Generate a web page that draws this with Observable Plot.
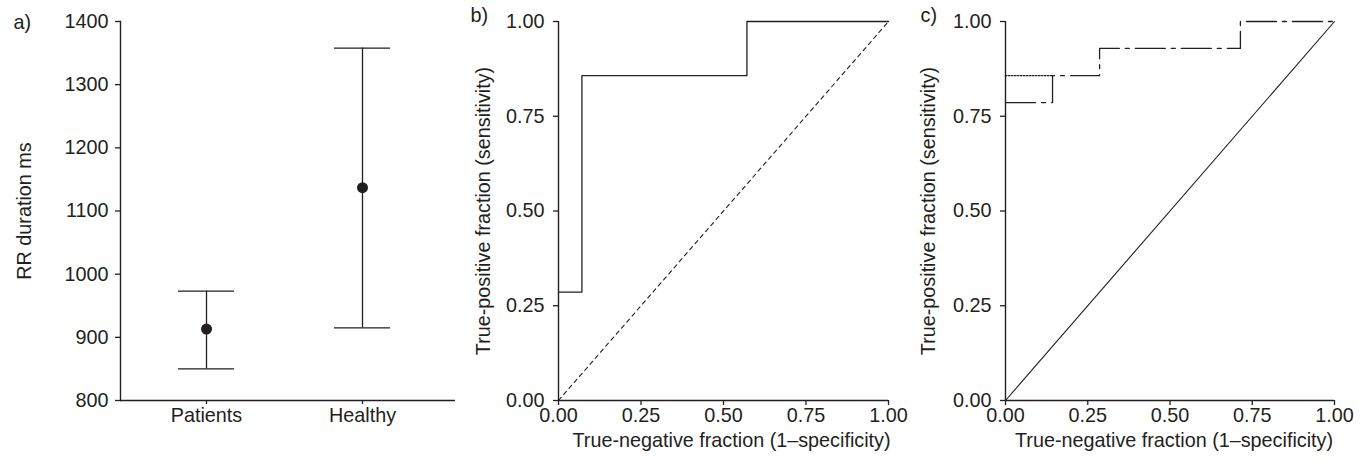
<!DOCTYPE html>
<html><head><meta charset="utf-8">
<script src="https://cdn.jsdelivr.net/npm/d3@7"></script>
<script src="https://cdn.jsdelivr.net/npm/@observablehq/plot@0.6"></script>
<style>
body{margin:0;background:#fff;}
#wrap{display:flex;width:1364px;height:460px;overflow:hidden;}
#wrap svg{display:block;flex:none;}
</style></head><body><div id="wrap"></div>
<script>
// Panel a: RR duration (mean with range)
const groups = ["Patients", "Healthy"];
const rrMean = [913, 1137];
const rrLower = [850, 915];
const rrUpper = [973, 1358];
const rrTicks = [800, 900, 1000, 1100, 1200, 1300, 1400];

// Panels b, c: ROC curves
const fracTicks = [0, 0.25, 0.5, 0.75, 1];
const chance = [0, 1];
const rocB_fpr = [0, 0.071, 0.571, 1];
const rocB_tpr = [0.286, 0.857, 1, 1];
const rocC1_fpr = [0, 0.143, 0.286, 0.714, 1];
const rocC1_tpr = [0.786, 0.857, 0.929, 1, 1];
const rocC2_fpr = [0, 0.143];
const rocC2_tpr = [0.857, 0.857];

const INK = "#231f20";
const FONT = "'Liberation Sans', Arial, sans-serif";
const style = {fontFamily: FONT, fontSize: "19.8px", color: INK, background: "#fff", overflow: "visible"};

const rrData = groups.map((g, i) => ({group: g, mean: rrMean[i], lower: rrLower[i], upper: rrUpper[i]}));
const pts = (xs, ys) => xs.map((x, i) => ({x, y: ys[i]}));

const panelA = Plot.plot({
  width: 460, height: 460,
  marginLeft: 120, marginRight: 5, marginTop: 21, marginBottom: 60,
  style,
  x: {type: "band", domain: groups, paddingInner: 0.643, paddingOuter: 0.3885, align: 0.467, label: null},
  y: {domain: [800, 1400], label: null},
  marks: [
    Plot.axisY({ticks: rrTicks, tickFormat: (d) => String(d), tickSize: 5, tickPadding: 7, label: null, strokeWidth: 1.3}),
    Plot.axisX({tickSize: 4, tickPadding: 3, label: null, strokeWidth: 1.3}),
    Plot.ruleY([800], {strokeWidth: 1.4}),
    Plot.frame({anchor: "left", strokeWidth: 1.4}),
    Plot.ruleX(rrData, {x: "group", y1: "lower", y2: "upper", strokeWidth: 1.3}),
    Plot.tickY(rrData, {x: "group", y: "lower", strokeWidth: 1.3}),
    Plot.tickY(rrData, {x: "group", y: "upper", strokeWidth: 1.3}),
    Plot.dot(rrData, {x: "group", y: "mean", r: 5.5, fill: INK, stroke: null}),
    Plot.text(["a)"], {frameAnchor: "top-left", dx: -107, dy: 1, textAnchor: "start", lineAnchor: "middle"}),
    Plot.text(["RR duration ms"], {frameAnchor: "left", rotate: -90, dx: -96, textAnchor: "middle", lineAnchor: "middle"})
  ]
});

function rocPanel({width, marginLeft, marginRight, tag, ylabDx, xlabDx, marks}) {
  return Plot.plot({
    width, height: 460,
    marginLeft, marginRight, marginTop: 21, marginBottom: 60,
    style,
    x: {domain: [0, 1], label: null},
    y: {domain: [0, 1], label: null},
    marks: [
      Plot.axisY({ticks: fracTicks, tickFormat: ".2f", tickSize: 5, tickPadding: 9, label: null, strokeWidth: 1.3}),
      Plot.axisX({ticks: fracTicks, tickFormat: ".2f", tickSize: 5, tickPadding: 2, label: null, strokeWidth: 1.3}),
      ...marks,
      Plot.ruleY([0], {strokeWidth: 1.4}),
      Plot.ruleX([0], {strokeWidth: 1.4}),
      Plot.text([tag], {frameAnchor: "top-left", dx: -(marginLeft - 10), dy: -6, textAnchor: "start", lineAnchor: "middle"}),
      Plot.text(["True-positive fraction (sensitivity)"], {frameAnchor: "left", rotate: -90, dx: ylabDx, textAnchor: "middle", lineAnchor: "middle"}),
      Plot.text(["True-negative fraction (1\u2013specificity)"], {frameAnchor: "bottom", dx: xlabDx, dy: 40, textAnchor: "middle", lineAnchor: "middle"})
    ]
  });
}

const panelB = rocPanel({
  width: 450, marginLeft: 98, marginRight: 22, tag: "b)", ylabDx: -75, xlabDx: 8,
  marks: [
    Plot.line(pts(chance, chance), {x: "x", y: "y", stroke: INK, strokeWidth: 1.1, strokeDasharray: "4,4"}),
    Plot.line(pts(rocB_fpr, rocB_tpr), {x: "x", y: "y", curve: "step-after", stroke: INK, strokeWidth: 1.3})
  ]
});

const panelC = rocPanel({
  width: 454, marginLeft: 95, marginRight: 30, tag: "c)", ylabDx: -77, xlabDx: 4,
  marks: [
    Plot.line(pts(chance, chance), {x: "x", y: "y", stroke: INK, strokeWidth: 1.1}),
    Plot.line(pts(rocC2_fpr, rocC2_tpr), {x: "x", y: "y", stroke: INK, strokeWidth: 1.3, strokeDasharray: "1.5,1.5"}),
    Plot.line(pts(rocC1_fpr, rocC1_tpr), {x: "x", y: "y", curve: "step-after", stroke: INK, strokeWidth: 1.3, strokeDasharray: "30,6,4,6"})
  ]
});

const wrap = document.getElementById("wrap");
wrap.append(panelA, panelB, panelC);
</script>
</body></html>
